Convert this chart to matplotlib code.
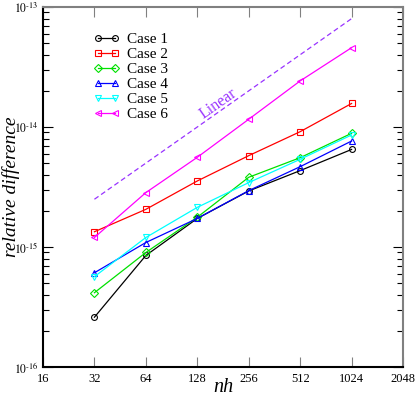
import numpy as np
import matplotlib.pyplot as plt
from matplotlib.ticker import FixedLocator, FuncFormatter, LogLocator, NullFormatter

plt.rcParams['font.family'] = 'Liberation Serif'
plt.rcParams['mathtext.fontset'] = 'stix'

# Data
nh = [32, 64, 128, 256, 512, 1024]
case1 = [2.6e-16, 8.5e-16, 1.73e-15, 2.93e-15, 4.33e-15, 6.5e-15]
case2 = [1.34e-15, 2.06e-15, 3.55e-15, 5.77e-15, 9.14e-15, 1.57e-14]
case3 = [4.16e-16, 9.0e-16, 1.77e-15, 3.81e-15, 5.55e-15, 8.86e-15]
case4 = [6.1e-16, 1.09e-15, 1.73e-15, 2.95e-15, 4.67e-15, 7.64e-15]
case5 = [5.66e-16, 1.2e-15, 2.14e-15, 3.44e-15, 5.38e-15, 8.58e-15]
case6 = [1.2e-15, 2.84e-15, 5.59e-15, 1.16e-14, 2.42e-14, 4.58e-14]
linear_nh = [32, 1024]
linear_val = [2.5e-15, 8.0e-14]

x_ticks = [16, 32, 64, 128, 256, 512, 1024, 2048]
y_ticks = [1e-16, 1e-15, 1e-14, 1e-13]

series = [
    ('Case 1', case1, 'black', 'o'),
    ('Case 2', case2, '#ff0000', 's'),
    ('Case 3', case3, '#00e000', 'D'),
    ('Case 4', case4, '#0000ff', '^'),
    ('Case 5', case5, '#00ffff', 'v'),
    ('Case 6', case6, '#ff00ff', '<'),
]

fig = plt.figure(figsize=(4.15, 3.98), dpi=100)
ax = fig.add_axes([43 / 415, 31 / 398, 360 / 415, 360 / 398])

for label, vals, col, mk in series:
    ms = 3.6 if mk == 'D' else 4.2
    ax.plot(nh, vals, color=col, marker=mk, markersize=ms, markerfacecolor='none',
            markeredgecolor=col, markeredgewidth=0.8, linewidth=0.9, label=label)

ax.plot(linear_nh, linear_val, color='#9933ff', linestyle=(0, (4, 2.5)), linewidth=0.9)
ax.text(170, 1.55e-14, 'Linear', color='#9933ff', fontsize=11.5, rotation=35,
        ha='center', va='center', rotation_mode='anchor')

ax.set_xscale('log', base=2)
ax.set_yscale('log')
ax.set_xlim(16, 2048)
ax.set_ylim(1e-16, 1e-13)

ax.xaxis.set_major_locator(FixedLocator(x_ticks))
ax.xaxis.set_major_formatter(FuncFormatter(lambda v, p: '%d' % v))
ax.xaxis.set_minor_locator(FixedLocator([]))
ax.yaxis.set_major_locator(FixedLocator(y_ticks))
ax.yaxis.set_major_formatter(
    FuncFormatter(lambda v, p: r'$10^{\text{-}%d}$' % abs(round(np.log10(v)))))
ax.yaxis.set_minor_locator(LogLocator(base=10, subs=np.arange(2, 10)))
ax.yaxis.set_minor_formatter(NullFormatter())

ax.tick_params(which='both', direction='in', top=True, right=True, labelsize=9, pad=4)
ax.tick_params(axis='y', labelsize=8.5, pad=3)
ax.tick_params(which='major', length=7, width=0.8)
ax.tick_params(which='minor', length=4, width=0.8)
ax.tick_params(axis='y', which='both', left=True, color='black')
ax.tick_params(axis='x', colors='#808080', labelcolor='black')

for side in ['top', 'right']:
    ax.spines[side].set_color('#808080')
    ax.spines[side].set_linewidth(1.5)
for side in ['left', 'bottom']:
    ax.spines[side].set_linewidth(1.5)

ax.set_xlabel('nh', fontsize=14.5, style='italic')
ax.set_ylabel('relative difference', fontsize=14, style='italic')
ax.xaxis.set_label_coords(0.5, -0.03)
ax.yaxis.set_label_coords(-0.065, 0.5)

leg = ax.legend(loc='upper left', bbox_to_anchor=(0.12, 0.95), frameon=False, fontsize=11,
                numpoints=2, handlelength=1.7, handletextpad=0.5, labelspacing=0.08,
                borderpad=0)

plt.savefig('out.png', dpi=100)
